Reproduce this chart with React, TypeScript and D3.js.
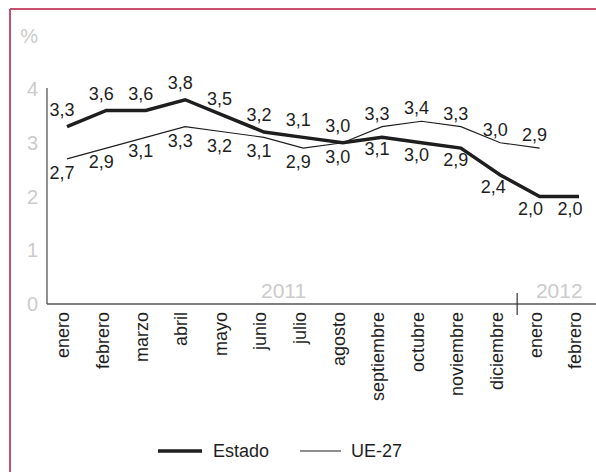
import React from 'react';
import * as d3 from 'd3';

const months = ['enero', 'febrero', 'marzo', 'abril', 'mayo', 'junio', 'julio', 'agosto',
    'septiembre', 'octubre', 'noviembre', 'diciembre', 'enero', 'febrero'];
const estado = [3.3, 3.6, 3.6, 3.8, 3.5, 3.2, 3.1, 3.0, 3.1, 3.0, 2.9, 2.4, 2.0, 2.0];
const ue27: (number | null)[] = [2.7, 2.9, 3.1, 3.3, 3.2, 3.1, 2.9, 3.0, 3.3, 3.4, 3.3, 3.0, 2.9, null];
const yTicks = [0, 1, 2, 3, 4];
const years = [{label: '2011', from: 0, to: 11}, {label: '2012', from: 12, to: 13}];

const FONT = '"Liberation Sans", Arial, Helvetica, sans-serif';
const LIGHT = '#cbcbcb';
const INK = '#1e1e1e';

const es = d3.formatLocale({decimal: ',', thousands: '.', grouping: [3], currency: ['', ' €']});
const fmt = es.format('.1f');

export default function App()
{
    const x = d3.scalePoint<number>()
        .domain(months.map((m, i) => i))
        .range([67, 579]);

    const y = d3.scaleLinear()
        .domain([0, 4])
        .range([304, 89]);

    const line = d3.line<number | null>()
        .defined(d => d !== null)
        .x((d, i) => x(i) as number)
        .y(d => y(d as number));

    const step = x.step();
    const sepX = (x(11) as number) + step * 0.43;

    // labels: the higher series gets its label above, the lower one below
    const labels: {key: string, x: number, y: number, text: string}[] = [];
    estado.forEach((v, i) =>
    {
        const u = ue27[i];
        const px = (x(i) as number) - 5;
        const estadoAbove = u !== null && v >= u;
        labels.push({
            key: 'e' + i,
            x: i === 11 ? px - 2 : (i >= 12 ? px - 4 : px),
            y: estadoAbove ? y(v) - 11 : y(v) + 18,
            text: fmt(v)
        });
        if (u !== null)
        {
            labels.push({
                key: 'u' + i,
                x: px,
                y: estadoAbove ? y(u) + 20 : y(u) - 7,
                text: fmt(u)
            });
        }
    });

    return (
        <svg width={596} height={472} style={{position: 'absolute', left: 0, top: 0, background: '#fff'}}
             fontFamily={FONT}>
            {/* frame */}
            <line x1={10} y1={9} x2={596} y2={9} stroke="#c8506e" strokeWidth={2}/>
            <line x1={10} y1={9} x2={10} y2={472} stroke="#c8506e" strokeWidth={2}/>

            <text x={38} y={43} textAnchor="end" fontSize={20} fill={LIGHT}>%</text>

            {yTicks.map(t =>
                <text key={t} x={38} y={y(t)} dy="0.35em" textAnchor="end" fontSize={20} fill={LIGHT}>{t}</text>
            )}

            {/* axes */}
            <line x1={47} y1={y(4) - 1} x2={47} y2={y(0)} stroke="#555" strokeWidth={1.3}/>
            <line x1={47} y1={y(0)} x2={596} y2={y(0)} stroke="#555" strokeWidth={1.3}/>
            <line x1={sepX} y1={y(0) - 11} x2={sepX} y2={y(0) + 11} stroke="#333" strokeWidth={1.2}/>

            {years.map(yr =>
                <text key={yr.label} x={((x(yr.from) as number) + (x(yr.to) as number)) / 2} y={298}
                      textAnchor="middle" fontSize={21} fill={LIGHT}>{yr.label}</text>
            )}

            {months.map((m, i) =>
                <text key={i} transform={'translate(' + ((x(i) as number) - 4) + ',312) rotate(-90)'}
                      dy="0.35em" textAnchor="end" fontSize={18} fill={INK}>{m}</text>
            )}

            {/* series */}
            <path d={line(ue27) || ''} fill="none" stroke={INK} strokeWidth={1.1}/>
            <path d={line(estado) || ''} fill="none" stroke={INK} strokeWidth={3.5}/>

            {labels.map(l =>
                <text key={l.key} x={l.x} y={l.y} textAnchor="middle" fontSize={18} fill={INK}>{l.text}</text>
            )}

            {/* legend */}
            <line x1={158} y1={451} x2={202} y2={451} stroke={INK} strokeWidth={3.5}/>
            <text x={213} y={457} fontSize={18} fill={INK}>Estado</text>
            <line x1={300} y1={451} x2={341} y2={451} stroke={INK} strokeWidth={1.1}/>
            <text x={351} y={457} fontSize={18} fill={INK}>UE-27</text>
        </svg>
    );
}
